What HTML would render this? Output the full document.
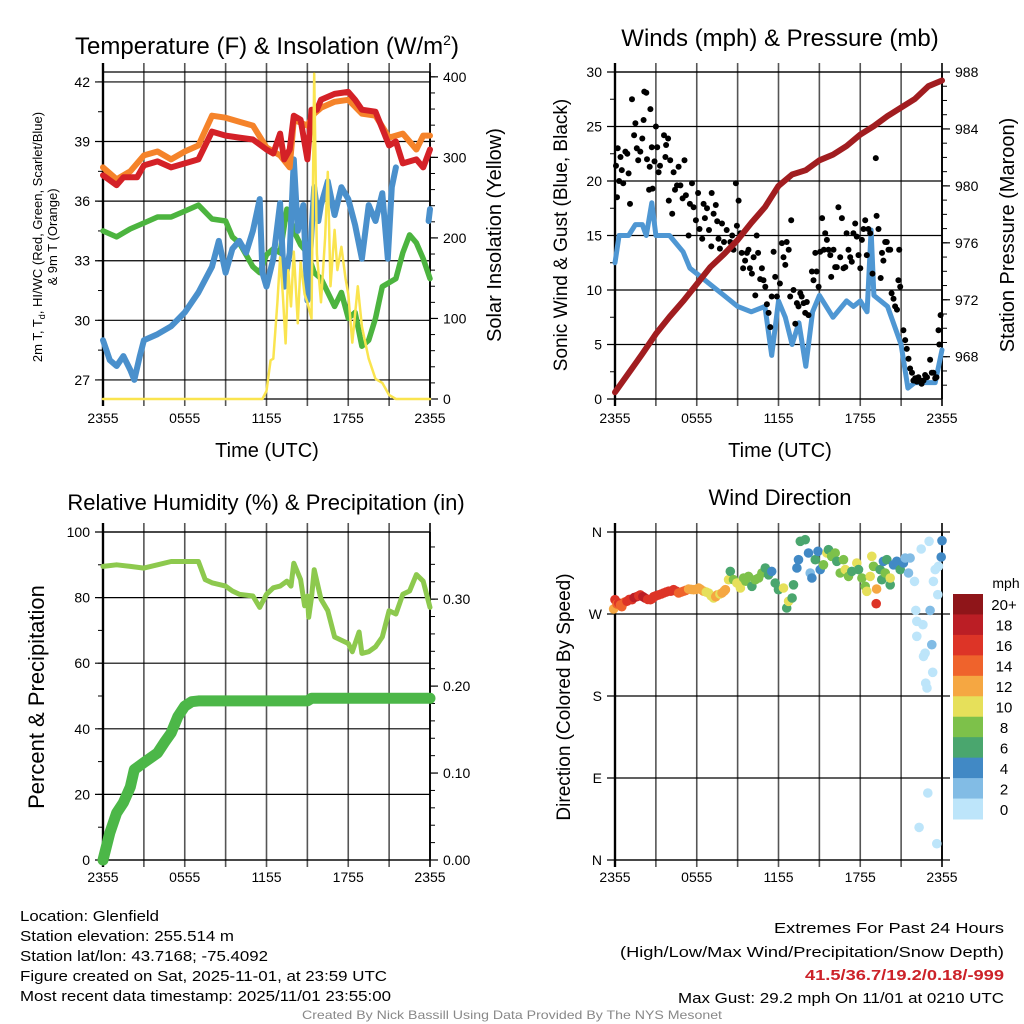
<!DOCTYPE html>
<html><head><meta charset="utf-8"><style>
html,body{margin:0;padding:0;background:#fff;}
svg{display:block;font-family:"Liberation Sans",Arial,sans-serif;}
</style></head><body>
<svg id="fig" width="1024" height="1024" viewBox="0 0 1024 1024" xmlns="http://www.w3.org/2000/svg">
<rect width="1024" height="1024" fill="#fff"/>
<g id="g"></g>
<g font-size="15" fill="#000">
<text x="20" y="921" textLength="139" lengthAdjust="spacingAndGlyphs">Location: Glenfield</text>
<text x="20" y="941" textLength="214" lengthAdjust="spacingAndGlyphs">Station elevation: 255.514 m</text>
<text x="20" y="961" textLength="248" lengthAdjust="spacingAndGlyphs">Station lat/lon: 43.7168; -75.4092</text>
<text x="20" y="981" textLength="367" lengthAdjust="spacingAndGlyphs">Figure created on Sat, 2025-11-01, at 23:59 UTC</text>
<text x="20" y="1001" textLength="371" lengthAdjust="spacingAndGlyphs">Most recent data timestamp: 2025/11/01 23:55:00</text>
</g>
<g font-size="15" text-anchor="end">
<text x="1004" y="933" textLength="230" lengthAdjust="spacingAndGlyphs">Extremes For Past 24 Hours</text>
<text x="1004" y="957" textLength="384" lengthAdjust="spacingAndGlyphs">(High/Low/Max Wind/Precipitation/Snow Depth)</text>
<text x="1004" y="980" textLength="199" lengthAdjust="spacingAndGlyphs" fill="#cc2229" font-weight="bold">41.5/36.7/19.2/0.18/-999</text>
<text x="1004" y="1003" textLength="326" lengthAdjust="spacingAndGlyphs">Max Gust: 29.2 mph On 11/01 at 0210 UTC</text>
</g>
<text x="512" y="1019" font-size="12" fill="#888" text-anchor="middle" textLength="420" lengthAdjust="spacingAndGlyphs">Created By Nick Bassill Using Data Provided By The NYS Mesonet</text>
</svg>
<script>
// ---------- DATA ----------
const hourTicks=[0,3,6,9,12,15,18,21,24];
const hourLabels=["2355","","0555","","1155","","1755","","2355"];
// Temperature panel
const tempTicks=[27,30,33,36,39,42];
const insolTicks=[0,100,200,300,400];
const redT_h=[0,1,1.5,2.5,3,4,5,6,7,7.5,8,9,10,11,12,12.5,13,13.3,13.7,14,14.5,15,15.3,15.7,16,17,18,18.5,19,20,21,21.5,22,23,23.5,24];
const redT_v=[37.3,36.8,37.2,37.2,37.8,38.0,37.7,37.9,38.1,38.8,39.5,39.3,39.2,39.1,38.6,38.4,39.4,38.1,38.6,40.3,40.1,38.1,40.6,40.6,41.1,41.4,41.5,41.1,40.6,40.5,38.8,39.0,37.9,38.1,37.7,38.6];
const orT_h=[0,1,2,3,4,5,6,7,8,9,10,11,12,13,13.7,14,15,15.5,16,17,18,19,20,21,22,23,23.5,24];
const orT_v=[37.7,37.1,37.5,38.3,38.5,38.1,38.5,38.8,40.3,40.2,40.0,39.8,38.7,38.3,37.7,40.1,39.8,40.4,40.7,41.0,41.1,40.4,40.3,39.2,39.4,38.6,39.3,39.3];
const grT_h=[0,1,2,3,4,5,6,7,8,9,9.5,10,11,11.5,12,12.5,13,13.5,14,14.5,15,15.5,16,17,17.5,18,18.5,19,19.5,20,20.5,21,21.5,22,22.5,23,23.5,24];
const grT_v=[34.5,34.2,34.6,34.9,35.2,35.2,35.5,35.8,35.1,35.0,34.2,33.9,32.7,32.4,33.3,33.6,33.4,35.6,34.5,33.8,33.4,32.4,32.1,30.7,31.4,30.1,30.4,28.7,29.0,30.1,31.7,31.9,32.1,33.4,34.3,33.9,33.1,32.1];
const blT_h=[0,0.5,1,1.5,2,2.3,2.7,3,4,5,6,7,8,8.5,9,9.5,10,10.5,11,11.5,11.7,12,12.5,13,13.3,13.7,14,14.3,14.7,15,15.5,15.8,16,16.5,17,17.5,18,18.5,19,19.5,20,20.5,20.9,21.2,21.5];
const blT_v=[29.0,28.0,27.7,28.2,27.5,27.0,28.2,29.0,29.3,29.7,30.4,31.4,32.7,34.0,32.4,33.6,34.0,33.4,34.5,36.1,32.4,31.7,33.1,35.9,31.7,33.4,38.1,34.5,35.8,31.0,36.7,35.0,35.8,37.0,35.3,36.7,36.1,34.8,33.1,35.8,35.0,36.4,33.1,36.7,37.7];
const blT2_h=[23.9,24];
const blT2_v=[35.0,35.6];
const sol_h=[0,11.7,12,12.3,12.5,12.8,13,13.2,13.4,13.6,13.8,14,14.3,14.5,14.8,15,15.3,15.5,15.7,16,16.3,16.5,16.7,17,17.2,17.5,17.8,18,18.3,18.7,19,19.5,20,20.5,21,21.5,24];
const sol_v=[0,0,10,48,50,120,176,130,69,160,115,183,94,170,130,120,100,404,180,120,200,282,140,210,160,189,150,130,70,140,90,50,25,20,5,0,0];
// Winds panel
const windTicks=[0,5,10,15,20,25,30];
const presTicks=[968,972,976,980,984,988];
const pres_h=[0,2,3,4,5,6,7,8,9,10,11,12,13,14,15,16,17,18,19,20,21,22,23,24];
const pres_v=[965.5,968.2,969.6,970.8,971.9,973.1,974.3,975.2,976.2,977.4,978.5,980.0,980.8,981.1,981.8,982.2,982.8,983.6,984.2,984.9,985.5,986.1,987.0,987.4];
const wind_h=[0,0.3,1,1.5,2,2.3,2.7,3,4,5,5.5,6,7,8,9,10,11,11.5,12,12.5,13,13.5,14,14.5,15,16,17,17.5,18,18.5,18.8,19,20,21,21.5,22,23,23.5,24];
const wind_v=[12.5,15,15,16,16,15,18,15,15,13.5,12,11.5,10.5,9.5,8.5,8,8.5,4,9,7.5,5,7,3,8,9.5,7.5,9,8.5,9,8,15.5,9.5,8.5,5,1,1.5,1.5,1.5,4.5];
const gust_h=[0.07,0.15,0.2,0.4,0.3,0.5,0.6,0.76,0.9,1,1.1,1.25,1.4,1.5,1.6,1.7,1.86,2,2.1,2.15,2.3,2.35,2.5,2.55,2.6,2.7,2.76,2.9,3,3.1,3.2,3.3,3.6,3.7,3.75,3.9,3.95,4.05,4.2,4.3,4.4,4.55,4.67,4.8,4.96,5.1,5.2,5.4,5.5,5.65,5.77,5.94,6.1,6.2,6.4,6.5,6.6,6.75,6.9,7.07,7.1,7.24,7.4,7.5,7.6,7.7,7.85,8,8.2,8.46,8.6,8.7,8.87,8.95,9.07,9.2,9.3,9.4,9.55,9.68,9.8,9.9,10.05,10.17,10.3,10.4,10.5,10.66,10.78,10.9,11.03,11.15,11.27,11.4,11.5,11.64,11.76,11.88,12.1,12.25,12.37,12.5,12.6,12.75,12.86,12.93,13.1,13.23,13.35,13.47,13.6,13.7,13.84,13.96,14.08,14.2,14.45,14.57,14.7,14.8,14.94,15.06,15.2,15.33,15.43,15.55,15.67,15.8,15.87,16.04,16.16,16.28,16.4,16.53,16.65,16.77,16.9,17,17.14,17.26,17.38,17.5,17.63,17.75,17.87,18,18.12,18.24,18.36,18.48,18.6,18.73,18.9,19.14,19.2,19.34,19.5,19.6,19.7,19.83,19.95,20.07,20.2,20.3,20.44,20.56,20.7,20.8,20.86,20.93,21.17,21.3,21.42,21.54,21.66,21.8,21.9,22.03,22.15,22.27,22.4,22.5,22.64,22.76,22.9,23.13,23.25,23.37,23.5,23.6,23.74,23.8,23.9];
const gust_v=[21.4,18.5,23,22.2,20,21,19.8,22.7,22.5,20.7,17.9,27.5,24.2,25.3,23,21.9,22.7,23.9,25.6,28.2,28.1,22,19.2,21.3,26.6,23.1,19.3,21.8,25,23.1,20.8,21.4,24.2,22.2,23.3,23.9,18.2,21.9,17,20.8,19.2,19.6,21.3,19.6,18.4,21.9,18.7,15,17.9,19.8,17.6,16.4,18.9,15.6,14.7,17.9,16.6,17.5,15.5,14,18.9,17,17.8,16.3,14.7,13.8,16.1,14.4,15.5,14.4,15,13.7,19.8,15.9,18.2,15.2,13.4,12,12.7,13.4,13.7,12,11.5,13,9.5,15,13.4,11,12,10.9,10.3,8.7,7.9,6.6,9.4,13.5,11.2,9.4,10.6,14.3,13,12.3,14.4,13.7,9.4,16.4,10,6.9,8.8,8.5,9.7,9.4,8.8,7.9,8.9,7.7,11.7,10.9,13.4,11.7,10.3,13.5,16.6,13.7,15.2,14.6,13.7,13.2,11.2,13.7,12.1,12.1,17.6,13,16.6,12,12.1,15.2,13.7,13,12.6,15.2,16.1,14.9,13.2,12,14.6,15.6,16.4,13.2,15.6,15.2,11.5,22.1,16.8,15.6,11.1,13.4,12.7,14.4,14.4,13.7,13.7,9.7,9.2,8.5,8.2,10.9,13.7,10.3,6.3,5.4,4.6,3.7,2.8,2.4,1.7,1.9,1.6,2,1.7,1.4,1.7,2.2,2,3.6,2.4,2.4,1.9,2,6.3,5,7.7];
// RH / precip panel
const rhTicks=[0,20,40,60,80,100];
const pcpTicks=[0,0.1,0.2,0.3];
const pcpLabels=["0.00","0.10","0.20","0.30"];
const rh_h=[0,1,2,3,4,5,6,7,7.5,8,9,9.5,10,11,11.5,12,12.5,13,13.5,13.8,14,14.5,14.8,15,15.1,15.3,15.5,16,16.5,17,17.5,18,18.3,18.8,19,19.5,20,20.5,21,21.5,22,22.5,23,23.5,24];
const rh_v=[89.5,90,89.5,89,90,91,91,91,85.5,84.5,83.5,82,81,80.5,77,81,83,83.5,85,83.5,90.5,85.5,77.5,80.5,74,80,88.5,79.5,76,68,67,66,63.5,69.5,63,63.5,65,68,76,75,81,82,87,85,77];
const pcp_h=[0,0.5,1,1.5,2,2.3,3,4,4.5,5,5.5,6,6.5,7,15,15.3,24];
const pcp_v=[0,0.031,0.054,0.066,0.084,0.104,0.112,0.123,0.135,0.146,0.165,0.177,0.182,0.183,0.183,0.186,0.186];
// Wind direction panel
const dirTicks=[0,90,180,270,360];
const dirLabels=["N","E","S","W","N"];
const dir_h=[-0.1,0,0.15,0.27,0.4,0.5,0.7,0.88,1.05,1.25,1.4,1.6,1.75,1.86,2.05,2.2,2.4,2.6,2.75,2.84,3.0,3.2,3.4,3.57,3.75,3.94,4.1,4.3,4.5,4.67,4.85,5.04,5.2,5.4,5.6,5.77,5.95,6.14,6.3,6.5,6.7,6.87,7.05,7.24,7.4,7.5,7.7,7.85,8.0,8.1,8.34,8.46,8.7,8.95,9.2,9.44,9.6,9.8,10.05,10.3,10.54,10.78,11.03,11.27,11.5,11.76,12,12.37,12.6,12.74,13,13.1,13.35,13.47,13.6,13.96,14.2,14.33,14.45,14.7,14.9,15.06,15.3,15.55,15.67,15.9,16.16,16.28,16.53,16.77,16.9,17.14,17.38,17.75,17.87,18.12,18.36,18.48,18.73,18.85,18.97,19.17,19.2,19.46,19.58,19.7,19.83,19.95,20.2,20.2,20.44,20.68,20.93,21.17,21.3,21.54,21.66,21.98,22.08,22.15,22.15,22.32,22.47,22.6,22.64,22.76,22.8,22.9,22.96,23.05,23.13,23.25,23.32,23.37,23.5,23.62,23.69,23.74,23.94,24];
const dir_v=[275.5,285.7,281,282,280,278,283,284,286,285.7,288,289,290,291,289,287.6,286,285.7,287,289,290,291,292,293,294,295,295,296.7,295,293,294,295,296,297.4,297,296.7,297,298.5,297,295,294,293,290,287.6,289,291,292,293,295,296.7,307.7,316.8,307.7,304,298.5,309.5,306,311.3,300.4,307.7,309.5,315,320.5,313,316.8,304,296.7,298.5,276.6,283.9,287.6,302,320.5,329.6,349.8,351.6,337,315,309.5,329.6,338.8,318.7,324,337,340.6,333.3,337,327.8,315,329.6,318.7,311.3,316.8,326,318.7,309.5,300.4,294.9,311.3,333.3,322.3,281.3,297.4,318.7,307.7,327.8,315,329.6,302,309.5,324,327.8,318.7,326,331.5,315,331.5,305.8,274,262,245.5,35.8,341.3,258.3,223.5,227,194,188.8,73.5,349.8,274,236.3,206,305.8,318.7,17.9,291.2,322.3,332.6,350.5];
const dir_s=[12,16,15,16,14,14,15,16,17,17,18,18,17,17,18,18,17,17,16,16,16,16,17,16,16,17,16,16,16,15,15,14,14,13,13,13,12,12,12,12,11,11,10,10,12,12,11,12,12,12,10,7,9,10,10,9,8,8,7,8,8,8,7,6,4,6,6,10,6,10,6,6,5,4,6,6,4,3,5,6,4,5,9,10,6,9,9,6,9,8,10,8,7,10,6,8,9,10,11,10,8,17,13,7,6,5,9,7,6,10,4,5,7,5,3,3,2,1,1,1,1,1,1,1,1,1,1,1,1,0,3,3,1,1,1,1,1,1,4,4];
const spdBins=["0","2","4","6","8","10","12","14","16","18","20+"];
const spdColors=["#bde5fa","#82bce5","#4189c5","#4aa66e","#7dc14a","#e6e05a","#f5a742","#ef632c","#dd3427","#bb1e25","#8f1519"];

// ---------- DRAW ----------
const NS="http://www.w3.org/2000/svg";
const root=document.getElementById('g');
function mk(tag,attrs,parent){const e=document.createElementNS(NS,tag);for(const k in attrs)e.setAttribute(k,attrs[k]);(parent||root).appendChild(e);return e;}
function txt(s,attrs,parent){const e=mk('text',attrs,parent);e.textContent=s;return e;}
function lin(a,b,v){return (v-a)/(b-a);}

function panel(name,L,R,T,B){
  const g=mk('g',{});
  
  
  return {g,L,R,T,B,x:h=>L+h/24*(R-L)};
}
function xGrid(p,labelY){
  hourTicks.forEach((h,i)=>{
    const X=p.x(h);
    const ln=mk('line',{x1:X,x2:X,y1:p.T-9,y2:p.B+7,stroke:(i==0||i==8)?'#000':'#555','stroke-width':(i==0)?2.2:1.6},p.g);
    
    
    if(hourLabels[i]){const t=txt(hourLabels[i],{x:X,y:labelY,'font-size':14,'text-anchor':'middle'},p.g);
      
      }
  });
}
function yLeft(p,ticks,labels,ymap,minorStep,lo,hi){
  if(minorStep){for(let v=lo;v<=hi+1e-9;v+=minorStep){const Y=ymap(v);if(Y<p.T-1||Y>p.B+1)continue;mk('line',{x1:p.L-5,x2:p.L,y1:Y,y2:Y,stroke:'#000','stroke-width':1},p.g);}}
  ticks.forEach((v,i)=>{const Y=ymap(v);
    const ln=mk('line',{x1:p.L-8,x2:p.R,y1:Y,y2:Y,stroke:'#000','stroke-width':1.2},p.g);
    
    
    const t=txt(labels[i],{x:p.L-13,y:Y+5,'font-size':14,'text-anchor':'end'},p.g);
    
    });
}
function yRight(p,ticks,labels,ymap,minorStep,lo,hi){
  for(let v=lo;v<=hi+1e-9;v+=minorStep){const Y=ymap(v);if(Y<p.T-1||Y>p.B+1)continue;mk('line',{x1:p.R,x2:p.R+5,y1:Y,y2:Y,stroke:'#000','stroke-width':1},p.g);}
  ticks.forEach((v,i)=>{const Y=ymap(v);
    mk('line',{x1:p.R,x2:p.R+8,y1:Y,y2:Y,stroke:'#000','stroke-width':1.2},p.g);
    const t=txt(labels[i],{x:p.R+13,y:Y+5,'font-size':14,'text-anchor':'start'},p.g);
    
    });
}
function frame(p){
  mk('line',{x1:p.L,x2:p.R,y1:p.T,y2:p.T,stroke:'#000','stroke-width':1.2},p.g);
  mk('line',{x1:p.L,x2:p.R,y1:p.B,y2:p.B,stroke:'#000','stroke-width':1.2},p.g);
  mk('line',{x1:p.L,x2:p.L,y1:p.T-9,y2:p.B+7,stroke:'#000','stroke-width':2.2},p.g);
  mk('line',{x1:p.R,x2:p.R,y1:p.T,y2:p.B,stroke:'#000','stroke-width':1.8},p.g);
}
function series(p,hs,vs,ymap,color,w,name){
  let d='';let pen=false;
  hs.forEach((h,i)=>{if(vs[i]==null){pen=false;return;}d+=(pen?'L':'M')+p.x(h).toFixed(1)+','+ymap(vs[i]).toFixed(1);pen=true;});
  const e=mk('path',{d,fill:'none',stroke:color,'stroke-width':w,'stroke-linejoin':'round','stroke-linecap':'round'},p.g);
  
  
  return e;
}
function title(s,x,y,size,parent){const t=txt(s,{x,y,'font-size':size,'text-anchor':'middle'},parent);return t;}
function vtitle(s,x,y,size,parent){return txt(s,{x:0,y:0,'font-size':size,'text-anchor':'middle',transform:`translate(${x},${y}) rotate(-90)`},parent);}

// ---- Panel 1: temperature ----
{
 const p=panel('temperature-panel',103,430,72,399);
 const yT=v=>p.B-lin(26.04,42.5,v)*(p.B-p.T);
 const yS=v=>p.B-lin(0,406,v)*(p.B-p.T);
 xGrid(p,423);
 yLeft(p,tempTicks,tempTicks.map(String),yT,1.5,27,42);
 yRight(p,insolTicks,insolTicks.map(String),yS,20,0,400);
 frame(p);
 series(p,grT_h,grT_v,yT,'#4cb43f',5.5,'dewpoint-line-green');
 series(p,blT_h,blT_v,yT,'#4a90cc',6,'windchill-line-blue');
 series(p,blT2_h,blT2_v,yT,'#4a90cc',6,'windchill-line-blue-end');
 series(p,orT_h,orT_v,yT,'#f5832a',6,'9m-temp-line-orange');
 series(p,redT_h,redT_v,yT,'#d42127',6,'2m-temp-line-red');
 series(p,sol_h,sol_v,yS,'#fae44f',2.5,'solar-insolation-line-yellow');
 const t=title('',267,54,24,p.g);t.innerHTML='Temperature (F) &amp; Insolation (W/m<tspan dy="-9" font-size="14">2</tspan><tspan dy="9">)</tspan>';
 
 const xt=title('Time (UTC)',267,457,20,p.g);
 const v1=txt('',{x:0,y:0,'font-size':13,'text-anchor':'middle',transform:'translate(42,237) rotate(-90)'},p.g);
 v1.innerHTML='2m T, T<tspan dy="3" font-size="9">d</tspan><tspan dy="-3">, HI/WC (Red, Green, Scarlet/Blue)</tspan>';
 
 const v2=vtitle('& 9m T (Orange)',57,237,13,p.g);
 const v3=vtitle('Solar Insolation (Yellow)',501,235,20,p.g);
}
// ---- Panel 2: winds ----
{
 const p=panel('winds-pressure-panel',615,942,72,399);
 const yW=v=>p.B-lin(0,30,v)*(p.B-p.T);
 const yP=v=>p.B-lin(965.03,988,v)*(p.B-p.T);
 xGrid(p,423);
 yLeft(p,windTicks,windTicks.map(String),yW,2.5,0,30);
 yRight(p,presTicks,presTicks.map(String),yP,1,966,988);
 frame(p);
 series(p,wind_h,wind_v,yW,'#4f97d3',5,'sonic-wind-line-blue');
 gust_h.forEach((h,i)=>{const c=mk('circle',{cx:p.x(h).toFixed(1),cy:yW(gust_v[i]).toFixed(1),r:3,fill:'#000'},p.g);
   
   });
 series(p,pres_h,pres_v,yP,'#a11d20',6,'pressure-line-maroon');
 const t=title('Winds (mph) & Pressure (mb)',780,46,24,p.g);
 const xt=title('Time (UTC)',780,457,20,p.g);
 const v1=vtitle('Sonic Wind & Gust (Blue, Black)',567,235,19,p.g);
 const v2=vtitle('Station Pressure (Maroon)',1014,235,20,p.g);
}
// ---- Panel 3: RH & precip ----
{
 const p=panel('humidity-precip-panel',103,430,532,860);
 const yR=v=>p.B-lin(0,100,v)*(p.B-p.T);
 const yQ=v=>p.B-lin(0,0.3772,v)*(p.B-p.T);
 xGrid(p,882);
 yLeft(p,rhTicks,rhTicks.map(String),yR,10,0,100);
 yRight(p,pcpTicks,pcpLabels,yQ,0.02,0,0.36);
 frame(p);
 series(p,rh_h,rh_v,yR,'#8dc94e',5,'relative-humidity-line');
 series(p,pcp_h,pcp_v,yQ,'#4cb748',11,'precipitation-line');
 const t=title('Relative Humidity (%) & Precipitation (in)',266,510,22,p.g);
 const v=vtitle('Percent & Precipitation',44,697,22,p.g);
}
// ---- Panel 4: wind direction ----
{
 const p=panel('wind-direction-panel',615,942,532,860);
 const yD=v=>p.B-lin(0,360,v)*(p.B-p.T);
 xGrid(p,882);
 yLeft(p,dirTicks,dirLabels,yD,0,0,0);
 frame(p);
 dirTicks.forEach(v=>mk('line',{x1:p.R,x2:p.R+8,y1:yD(v),y2:yD(v),stroke:'#000','stroke-width':1.2},p.g));
 dir_h.forEach((h,i)=>{let b=Math.min(10,Math.floor(dir_s[i]/2));
   const c=mk('circle',{cx:p.x(h).toFixed(1),cy:yD(dir_v[i]).toFixed(1),r:4.8,fill:spdColors[b]},p.g);
   
   });
 const t=title('Wind Direction',780,505,22,p.g);
 const v=vtitle('Direction (Colored By Speed)',570,697,19,p.g);
 const lg=mk('g',{},p.g);
 
 
 const top=594,bh=(819-594)/11;
 for(let k=0;k<11;k++){const idx=10-k;
   const r=mk('rect',{x:953,y:(top+k*bh).toFixed(2),width:30,height:(bh+0.5).toFixed(2),fill:spdColors[idx]},lg);
   
   
   const t2=txt(spdBins[idx],{x:1004,y:(top+k*bh+bh/2+6).toFixed(1),'font-size':15,'text-anchor':'middle'},lg);
   
   }
 const mph=txt('mph',{x:1006,y:588,'font-size':14,'text-anchor':'middle'},lg);
 
 
}
</script>
</body></html>
